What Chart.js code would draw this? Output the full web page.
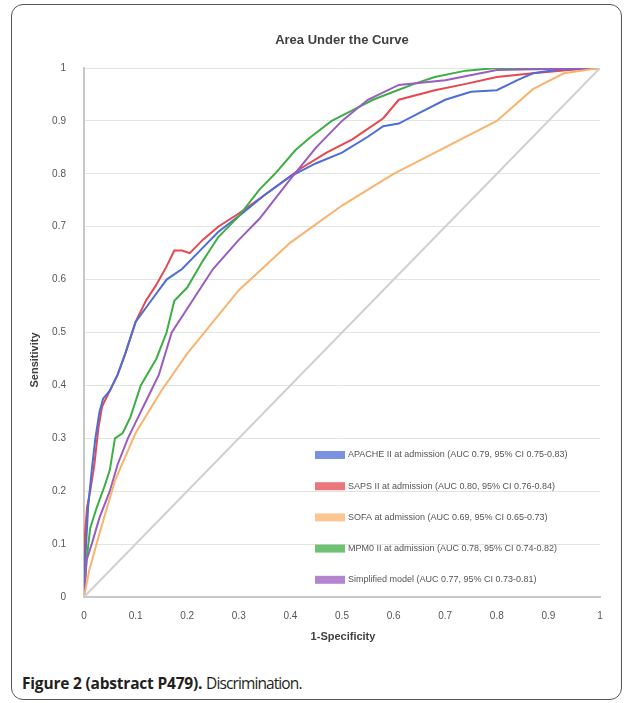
<!DOCTYPE html>
<html>
<head>
<meta charset="utf-8">
<script src="https://cdn.jsdelivr.net/npm/chart.js@4"></script>
<style>
  html, body { margin: 0; padding: 0; background: #fff; }
  body { width: 632px; height: 703px; position: relative; overflow: hidden; }
  #frame {
    position: absolute; left: 11px; top: 4px; width: 609px; height: 694px;
    border: 1.5px solid #555; border-radius: 12px;
  }
  #wrap { position: absolute; left: 0; top: 0; width: 632px; height: 655px; }
  #caption {
    position: absolute; left: 22px; top: 672px;
    font-family: "Open Sans", sans-serif; font-size: 15.5px; color: #231f20;
    letter-spacing: -0.2px;
  }
  #caption b { font-weight: 700; }
  #caption span { letter-spacing: -0.9px; }
</style>
</head>
<body>
<div id="frame"></div>
<div id="wrap"><canvas id="roc" width="632" height="655"></canvas></div>
<div id="caption"><b>Figure 2 (abstract P479).</b> <span>Discrimination.</span></div>

<script>
  // values (false positive rate vs sensitivity)
  const seriesLabels = [
    "APACHE II at admission (AUC 0.79, 95% CI 0.75-0.83)",
    "SAPS II at admission (AUC 0.80, 95% CI 0.76-0.84)",
    "SOFA at admission (AUC 0.69, 95% CI 0.65-0.73)",
    "MPM0 II at admission (AUC 0.78, 95% CI 0.74-0.82)",
    "Simplified model (AUC 0.77, 95% CI 0.73-0.81)",
  ];
  const axisTicks = [0, 0.1, 0.2, 0.3, 0.4, 0.5, 0.6, 0.7, 0.8, 0.9, 1];

  const blueFpr = [0, 0.003, 0.008, 0.015, 0.022, 0.03, 0.037, 0.05, 0.065, 0.08, 0.1, 0.13, 0.16, 0.19, 0.22, 0.26, 0.3, 0.35, 0.4, 0.45, 0.5, 0.55, 0.58, 0.61, 0.65, 0.7, 0.75, 0.8, 0.84, 0.87, 0.92, 1];
  const blueTpr = [0, 0.08, 0.17, 0.24, 0.3, 0.35, 0.375, 0.39, 0.42, 0.46, 0.52, 0.56, 0.6, 0.62, 0.65, 0.69, 0.72, 0.76, 0.795, 0.82, 0.84, 0.87, 0.89, 0.895, 0.915, 0.94, 0.955, 0.958, 0.977, 0.99, 0.997, 1];

  const redFpr = [0, 0.002, 0.006, 0.012, 0.02, 0.028, 0.035, 0.05, 0.065, 0.08, 0.1, 0.12, 0.14, 0.16, 0.175, 0.19, 0.205, 0.23, 0.26, 0.3, 0.35, 0.42, 0.47, 0.52, 0.58, 0.61, 0.68, 0.74, 0.8, 0.87, 0.94, 1];
  const redTpr = [0, 0.12, 0.17, 0.2, 0.25, 0.32, 0.36, 0.39, 0.42, 0.46, 0.52, 0.56, 0.59, 0.625, 0.655, 0.655, 0.65, 0.675, 0.7, 0.725, 0.76, 0.81, 0.84, 0.865, 0.905, 0.94, 0.958, 0.97, 0.983, 0.99, 0.996, 1];

  const orangeFpr = [0, 0.01, 0.03, 0.06, 0.1, 0.15, 0.2, 0.3, 0.4, 0.5, 0.6, 0.7, 0.8, 0.87, 0.93, 1];
  const orangeTpr = [0, 0.05, 0.12, 0.22, 0.31, 0.39, 0.46, 0.58, 0.67, 0.74, 0.8, 0.85, 0.9, 0.96, 0.99, 1];

  const greenFpr = [0, 0.005, 0.012, 0.025, 0.04, 0.05, 0.06, 0.075, 0.09, 0.11, 0.14, 0.16, 0.175, 0.2, 0.23, 0.26, 0.3, 0.34, 0.37, 0.41, 0.44, 0.48, 0.52, 0.56, 0.6, 0.64, 0.68, 0.74, 0.8, 1];
  const greenTpr = [0, 0.07, 0.13, 0.17, 0.21, 0.24, 0.3, 0.31, 0.34, 0.4, 0.45, 0.5, 0.56, 0.585, 0.635, 0.68, 0.72, 0.77, 0.8, 0.845, 0.87, 0.9, 0.92, 0.94, 0.955, 0.97, 0.983, 0.995, 1, 1];

  const purpleFpr = [0, 0.005, 0.015, 0.03, 0.05, 0.065, 0.085, 0.105, 0.125, 0.145, 0.17, 0.21, 0.25, 0.3, 0.34, 0.4, 0.45, 0.5, 0.55, 0.61, 0.7, 0.8, 1];
  const purpleTpr = [0, 0.07, 0.1, 0.15, 0.2, 0.25, 0.3, 0.34, 0.38, 0.42, 0.5, 0.56, 0.62, 0.675, 0.715, 0.79, 0.85, 0.9, 0.94, 0.968, 0.977, 0.996, 1];

  const chanceFpr = [0, 1];
  const chanceTpr = [0, 1];

  const pts = (xs, ys) => xs.map((x, i) => ({ x, y: ys[i] }));
  const curve = (label, xs, ys, color) => ({
    label, data: pts(xs, ys), borderColor: color, backgroundColor: color,
    borderWidth: 2, pointRadius: 0, tension: 0, fill: false,
  });

  const datasets = [
    { label: "chance", data: pts(chanceFpr, chanceTpr), borderColor: "#d0d0d0", borderWidth: 2, pointRadius: 0 },
    curve(seriesLabels[2], orangeFpr, orangeTpr, "#f9b36e"),
    curve(seriesLabels[4], purpleFpr, purpleTpr, "#9a5cc0"),
    curve(seriesLabels[3], greenFpr, greenTpr, "#3fae45"),
    curve(seriesLabels[0], blueFpr, blueTpr, "#4c6fd6"),
    curve(seriesLabels[1], redFpr, redTpr, "#e5484f"),
  ];
  const legendOrder = [4, 5, 1, 3, 2];

  // title, axis titles and the in-plot legend
  const decorations = {
    id: "decorations",
    afterDraw(chart) {
      const { ctx } = chart;
      ctx.save();
      ctx.fillStyle = "#404040";
      ctx.textAlign = "center";
      ctx.textBaseline = "middle";
      ctx.font = "bold 13px 'Liberation Sans', sans-serif";
      ctx.fillText("Area Under the Curve", 342, 40);
      ctx.font = "bold 11px 'Liberation Sans', sans-serif";
      ctx.fillText("1-Specificity", 343, 637);
      ctx.translate(35, 360);
      ctx.rotate(-Math.PI / 2);
      ctx.fillText("Sensitivity", 0, 0);
      ctx.restore();

      ctx.save();
      ctx.font = "9px 'Liberation Sans', sans-serif";
      ctx.textBaseline = "middle";
      ctx.textAlign = "left";
      legendOrder.forEach((di, i) => {
        const ds = chart.data.datasets[di];
        const y = 455 + i * 31.2;
        ctx.fillStyle = ds.borderColor;
        ctx.globalAlpha = 0.75;
        ctx.fillRect(315, y - 4, 30, 8);
        ctx.globalAlpha = 1;
        ctx.fillStyle = "#555";
        ctx.fillText(ds.label, 348, y);
      });
      ctx.restore();
    },
  };

  new Chart(document.getElementById("roc"), {
    type: "line",
    data: { datasets },
    options: {
      responsive: false,
      animation: false,
      layout: { padding: { top: 68, right: 32, left: 0, bottom: 0 } },
      plugins: { legend: { display: false }, tooltip: { enabled: false }, title: { display: false } },
      scales: {
        x: {
          type: "linear", min: 0, max: 1,
          afterBuildTicks: (s) => { s.ticks = axisTicks.map((v) => ({ value: v })); },
          afterFit: (s) => { s.height = 58; },
          grid: { display: false },
          border: { display: true, color: "#c8c8c8", width: 2 },
          ticks: { color: "#555", font: { size: 10, family: "'Liberation Sans', sans-serif" }, padding: 5, maxRotation: 0,
            callback: (v) => String(Math.round(v * 10) / 10) },
        },
        y: {
          min: 0, max: 1,
          afterBuildTicks: (s) => { s.ticks = axisTicks.map((v) => ({ value: v })); },
          afterFit: (s) => { s.width = 84; },
          grid: { color: "#dfe6df", lineWidth: 1, drawTicks: false },
          border: { display: true, color: "#c8c8c8", width: 2 },
          ticks: { color: "#555", font: { size: 10, family: "'Liberation Sans', sans-serif" }, padding: 18,
            callback: (v) => String(Math.round(v * 10) / 10) },
        },
      },
    },
    plugins: [decorations],
  });
</script>
</body>
</html>
